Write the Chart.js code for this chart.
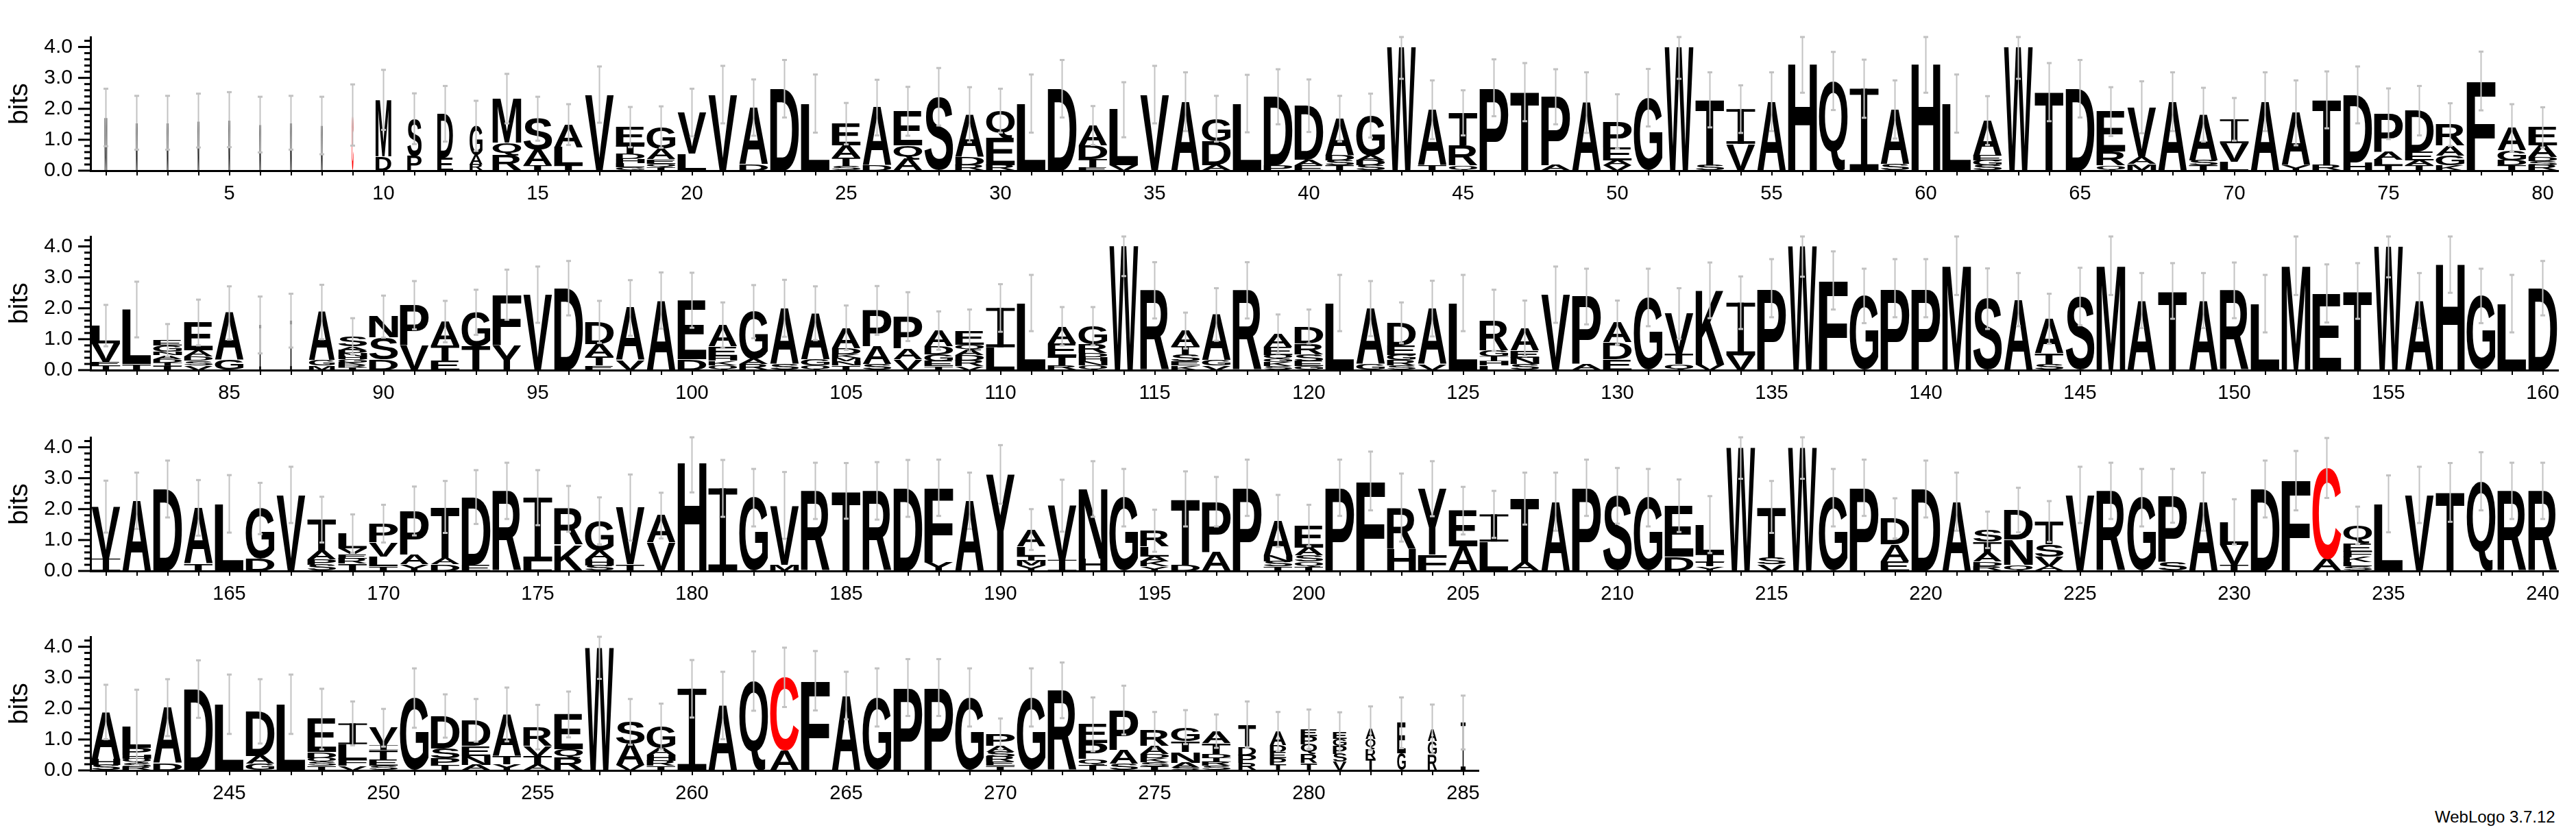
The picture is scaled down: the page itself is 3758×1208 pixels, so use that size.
<!DOCTYPE html>
<html><head><meta charset="utf-8">
<script src="https://cdn.jsdelivr.net/npm/chart.js@4/dist/chart.umd.min.js"></script>
<style>
html,body{margin:0;padding:0;background:#fff;width:3758px;height:1208px;overflow:hidden;position:relative}
canvas{position:absolute;left:0}
#credit{position:absolute;left:3552px;top:1180px;font:24px/24px 'Liberation Sans',Arial,sans-serif;color:#000;white-space:nowrap}
</style></head><body>
<div id="credit">WebLogo 3.7.12</div>
<script>
// ---- data: each stack lists letters bottom -> top with height in bits ----
const row1Stacks = [
"M1.72","M1.55","M1.55","M1.62","M1.65","M1.49","M1.55","M1.46","C1.8",
"D.46 M1.83","P.48 S1.2","E.43 D1.41","R.2 A.3 G.95","R.5 Q.4 M1.43","T.17 A.5 S1.01","T.17 L.58 A.74","V2.46","G.1 L.14 H.14 D.16 T.29 E.58","T.11 Q.12 E.15 A.33 G.7","L.56 V1.32",
"V2.46","D.21 A1.83","D2.65","L2.17","S.16 T.26 A.39 E.71","D.17 A1.87","A.37 Q.45 E1.1","S2.39","R.17 D.26 A1.38","R.17 E.87 Q.9",
"L2.17","D2.65","E.11 T.26 D.45 A.64","V.17 L1.8","V2.46","A2.23","A.17 D.77 G.74","L2.17","P.17 D2.22","E.17 A.18 D1.75",
"T.17 S.16 D.16 A1.19","S.17 D.16 A.16 G1.29","W4.0","T.17 A1.8","Q.17 R.64 T1.06","P2.68","T2.54","A.17 P2.22","A2.2","V.17 A.16 E.42 P.84",
"G2.36","W4.0","S.17 T2.12","V.87 I1.12","A2.23","H3.46","Q2.9","I2.65","S.2 A1.78","H3.46",
"L2.17","S.17 G.16 E.16 A1.13","W4.0","T2.54","D2.65","Q.17 R.45 E1.29","M.21 A.22 V1.62","A2.23","T.17 S.16 A1.48","L.29 V.6 I.77",
"A2.23","Y.17 A1.7","R.17 T2.12","H.27 D2.18","T.17 L.19 A.26 P1.22","T.17 A.16 E.29 D1.32","K.17 G.32 A.32 R.68","F2.9","T.17 D.16 G.32 A.74","R.17 S.13 D.13 A.39 E.58"
];
const row1ErrTop = [2.65,2.42,2.42,2.49,2.54,2.39,2.42,2.39,2.79,3.26, 2.5,2.74,2.26,3.13,2.39,2.15,3.37,2.06,2.08,2.65, 3.39,2.95,3.58,3.11,2.19,2.94,2.71,3.32,2.7,2.65, 3.11,3.58,2.09,2.86,3.39,3.18,2.42,3.1,3.28,2.95, 2.42,2.49,5.03,2.92,2.6,3.6,3.48,3.28,3.18,2.47, 3.29,5.03,3.18,2.76,3.18,4.4,3.84,3.59,2.92,4.4, 3.11,2.41,5.03,3.48,3.58,2.7,2.89,3.18,2.68,2.35, 3.18,2.92,3.21,3.37,2.66,2.74,2.18,3.85,2.15,2.05];

const row2Stacks = [
"I.14 E.13 V.6 L.57","T.19 L1.77","T.14 I.1 D.12 A.12 N.12 G.2 E.16","V.16 S.15 D.14 A.19 E.9","G.32 A1.53","I1.46","I1.6","M.16 G.16 A1.56","T.09 R.08 K.08 G.1 H.1 N.1 D.1 A.12 S.32","D.35 S.71 N.67",
"V.8 P1.3","E.31 T.49 A.77","T.77 G1.1","Y.8 F1.64","V2.44","D2.65","E.16 T.29 A.39 D.72","V.31 A1.7","A2.25","D.35 E1.91",
"Q.16 K.15 H.14 E.32 A.68","R.19 A.16 G1.54","S.19 A1.81","Q.16 G.19 A1.49","T.16 N.13 M.11 K.12 D.19 A.66","S.19 A.58 P1.16","V.35 A.35 P1.03","T.13 E.16 G.22 D.26 A.51","V.13 R.19 D.16 A.16 Q.19 E.45","L.74 I1.27",
"L2.17","R.16 T.29 E.42 A.55","Q.16 N.13 H.13 D.13 R.29 G.58","W4.02","R2.58","K.16 E.13 S.22 T.26 A.51","V.16 G.16 A1.48","R2.58","S.13 K.13 G.1 Q.13 E.26 A.42","G.13 E.16 S.22 R.35 D.55",
"L2.17","G.19 A1.8","S.16 R.16 G.16 E.32 D.73","V.19 A1.8","L2.17","L.16 H.13 I.16 G.19 R.97","S.19 N.22 E.22 A.72","V2.44","A.19 P2.19","E.35 D.55 A.64",
"G2.35","Q.19 T.35 V1.29","V.17 K2.41","V.48 I1.7","P2.65","W4.01","F2.9","G2.4","P2.65","P2.65",
"M3.4","S2.31","A2.28","S.19 T.35 A1.12","S2.38","M3.4","A2.25","T2.56","A2.25","R2.58",
"L2.15","M3.4","E2.48","T2.56","W4.0","A2.25","H3.45","G2.4","L2.15","D2.65"
];
const row2ErrTop = [2.11,2.86,1.49,2.28,2.71,2.38,2.47,2.76,1.68,2.41, 2.88,2.24,2.6,3.25,3.35,3.53,2.24,2.91,3.16,3.15, 2.19,2.75,2.92,2.71,2.09,2.72,2.52,1.9,1.96,2.78, 3.08,2.04,2.04,5.0,3.49,1.86,2.65,3.49,1.8,1.96, 3.08,2.88,2.19,2.89,3.08,2.6,2.25,3.35,3.28,2.25, 3.28,2.65,3.48,3.03,3.59,5.0,3.84,3.28,3.59,3.59, 4.37,3.29,3.14,2.47,3.31,4.37,3.14,3.46,3.14,3.48, 3.08,4.37,3.42,3.46,5.0,3.14,4.4,3.28,3.08,3.53];

const row3Stacks = [
"I.4 V1.68","A2.27","D2.65","T.24 A1.8","L2.17","D.4 G1.62","V2.46","S.21 P.16 A.29 T1.0","T.25 R.16 E.15 V.17 L.48","T.15 L.32 V.45 P.61",
"Y.21 A.32 P1.41","D.21 A.19 T1.67","E.21 D2.18","R2.59","L.31 I2.06","K.85 R1.16","S.18 H.19 A.29 G.96","T.22 V1.83","V.92 A.87","H3.49",
"I2.67","G2.37","M.21 V1.91","R2.59","T2.59","R2.59","D2.67","Y.28 F2.41","A2.27","Y3.12",
"Y.18 M.16 I.13 L.32 A.55","I.36 V1.75","H.4 N2.25","G2.37","Y.15 K.16 A.16 L.32 R.51","D.21 T2.12","A.6 P1.64","P2.69","T.15 S.16 N.19 A1.12","T.15 Q.16 S.19 A.26 E.71",
"P2.69","F2.91","H.73 R1.32","F.53 Y2.13","A.79 E1.16","L.95 I.88","A.28 T2.06","A2.24","P2.69","S2.43",
"G2.37","D.47 E1.64","Y.15 T.14 I.24 L.97","W3.99","V.21 S.22 T1.64","W3.99","G2.37","P2.69","E.31 A.55 D.84","D2.65",
"A2.24","R.15 D.15 A.29 T.35 S.39","Q.21 N.8 D.96","A.15 V.32 S.39 T.74","V2.46","R2.59","G2.37","S.28 P2.15","A2.24","T.21 V.64 L.74",
"D2.65","F2.92","A.37 C2.96","S.15 L.13 K.16 F.19 E.26 Q.58","L2.17","V2.46","T2.54","Q2.9","R2.59","R2.59"
];
const row3ErrTop = [2.92,3.18,3.57,2.94,3.1,2.85,3.37,2.4,1.83,2.14, 2.73,2.91,3.26,3.5,3.26,2.75,2.38,3.12,2.53,4.44, 3.59,3.3,3.2,3.5,3.49,3.52,3.59,3.6,3.18,4.07, 2.0,2.95,3.55,3.3,1.98,3.22,3.04,3.6,2.46,2.14, 3.6,3.86,3.15,3.55,2.72,2.59,3.18,3.18,3.6,3.33, 3.3,2.96,2.42,5.0,2.91,5.0,3.3,3.6,2.35,3.57, 3.18,1.92,2.69,2.26,3.37,3.5,3.3,3.3,3.18,2.32, 3.57,3.88,4.3,2.08,3.09,3.37,3.49,3.84,3.5,3.5];

const row4Stacks = [
"S.18 H.19 A1.52","R.12 S.13 Q.13 H.13 P.22 L.67","D.24 A1.79","D2.63","L2.14","G.21 A.26 D1.44","L2.14","T.15 S.13 Q.13 D.18 E1.07","V.15 F.19 L.51 I.67","S.15 E.19 T.32 I.16 V.56",
"G2.34","T.18 P.22 S.32 D1.04","A.18 N.29 E.32 D.83","Y.21 T.26 A1.34","A.18 T.29 V.32 R.61","R.4 Q.29 E1.12","W3.97","V.18 A.67 S.72","T.15 R.16 H.19 A.22 G.7","I2.64",
"A2.1","Q2.89","A.63 C2.38","F2.9","A2.42","G2.36","P2.68","P2.68","G2.36","T.15 E.13 R.16 S.16 A.19 P.38",
"G2.36","R2.59","T.18 Q.19 P.51 E.61","S.21 A.45 P1.29","T.14 S.13 K.13 D.13 A.26 R.51","S.09 A.16 N.35 T.35 G.45","S.15 R.13 I.13 D.13 T.35 A.38","R.24 P.24 D.26 T.75","T.21 P.19 E.19 D.22 A.45","T.24 R.29 Q.32 P.26 E.22",
"V.28 S.26 P.26 G.22 E.22","T.37 R.32 Q.32 A.35","G.56 E.98","R.5 G.45 A.38","I1.55"
];
const row4ErrTop = [2.77,2.61,2.95,3.56,3.1,2.95,3.1,2.64,2.23,1.99, 3.3,2.46,2.31,2.68,2.12,2.55,4.98,2.31,2.16,3.57, 3.19,3.85,3.97,3.86,3.19,3.3,3.6,3.6,3.3,1.68, 3.3,3.49,2.36,2.74,1.89,1.95,1.81,2.23,1.89,1.97, 1.88,2.07,2.36,2.13,2.42];

// stack-width fraction (non-gap fraction) for positions that are not full width
const narrowPositions = [1,2,3,4,5,6,7,8,9,10,11,12,13,86,87,88,278,279,280,281,282,283,284,285];
const narrowWidths   = [0.09,0.07,0.07,0.07,0.07,0.07,0.07,0.07,0.06,0.55,0.5,0.55,0.45,0.06,0.06,0.9,0.62,0.57,0.57,0.48,0.35,0.3,0.32,0.17];

const rowFirstPositions = [1, 81, 161, 241];
const yTickLabels = ["0.0","1.0","2.0","3.0","4.0"];
const yMaxBits = 4.3219;

// ---- layout / style ----
const LAYOUT = { baselines:[249,540,833,1124], areaLeft:132, catWidth:45, areaHeight:224, padTop:15, xAxisH:50, canvasW:3758 };
const FONT = "'Liberation Sans', Arial, Helvetica, sans-serif";
const LETTER_FONT = "bold 200px 'Liberation Sans', Arial, Helvetica, sans-serif";
const ERR_COLOR = '#c2c2c2';

function parseStack(s){ return s.split(' ').map(t => ({letter:t[0], h:parseFloat(t.slice(1))})); }
function coverage(pos){ const k = narrowPositions.indexOf(pos); return k < 0 ? 1 : narrowWidths[k]; }

const glyphCache = {};
function glyphBox(ctx, L){
  if (!glyphCache[L]) {
    ctx.save(); ctx.font = LETTER_FONT;
    const m = ctx.measureText(L);
    glyphCache[L] = {l:m.actualBoundingBoxLeft, r:m.actualBoundingBoxRight, a:m.actualBoundingBoxAscent, d:m.actualBoundingBoxDescent};
    ctx.restore();
  }
  return glyphCache[L];
}
function drawLetter(ctx, L, x, y, w, h, color){
  if (h < 0.3 || w < 0.3) return;
  ctx.save();
  ctx.fillStyle = color;
  if (L === 'I') {
    const bar = Math.max(0.6, h*0.075), stem = Math.max(1.5, w*0.22);
    ctx.fillRect(x, y, w, bar);
    ctx.fillRect(x, y + h - bar, w, bar);
    ctx.fillRect(x + (w - stem)/2, y, stem, h);
  } else {
    const g = glyphBox(ctx, L);
    const gw = g.l + g.r, gh = g.a + g.d;
    ctx.translate(x, y);
    ctx.scale(w/gw, h/gh);
    ctx.font = LETTER_FONT; ctx.textAlign = 'left'; ctx.textBaseline = 'alphabetic';
    ctx.fillText(L, g.l, g.a);
  }
  ctx.restore();
}

const logoPlugin = {
  id:'logo',
  afterDatasetsDraw(chart){
    const ctx = chart.ctx, xs = chart.scales.x, ys = chart.scales.y;
    const first = chart.options.plugins.logo.first;
    const catW = xs.width / chart.data.labels.length;
    const totals = new Array(chart.data.labels.length).fill(0);
    chart.data.datasets.forEach((ds, di) => {
      const meta = chart.getDatasetMeta(di);
      meta.data.forEach((bar, i) => {
        const v = ds.data[i]; if (!v) return;
        totals[i] += v;
        const p = bar.getProps(['x','y','base'], true);
        const w = catW * 0.93 * coverage(first + i);
        const L = ds.letters[i];
        drawLetter(ctx, L, p.x - w/2, p.y, w, p.base - p.y, L === 'C' ? '#ff0000' : '#000000');
      });
    });
    // error bars
    const errTop = chart.options.plugins.logo.errTop;
    const area = chart.chartArea;
    ctx.save();
    ctx.fillStyle = ERR_COLOR; ctx.strokeStyle = ERR_COLOR; ctx.lineWidth = 2;
    totals.forEach((t, i) => {
      const hi = Math.min(errTop[i], yMaxBits);
      const lo = Math.max(2*t - errTop[i], 0);
      const x = xs.getPixelForValue(i);
      const y1 = Math.max(ys.getPixelForValue(hi), area.top), y2 = ys.getPixelForValue(lo);
      ctx.beginPath(); ctx.moveTo(x, y1); ctx.lineTo(x, y2); ctx.stroke();
      ctx.fillRect(x - 3.5, y1 - 1.5, 7, 3);
      ctx.fillRect(x - 3.5, y2 - 1.5, 7, 3);
    });
    ctx.restore();
  },
  afterDraw(chart){
    const ctx = chart.ctx, ys = chart.scales.y, left = chart.chartArea.left;
    ctx.save(); ctx.fillStyle = '#000';
    for (let k = 0; k * 0.2 <= yMaxBits; k++) {
      const y = ys.getPixelForValue(k * 0.2);
      const len = (k % 5 === 0) ? 18 : 9;
      ctx.fillRect(left - len, y - 1.5, len, 3);
    }
    ctx.restore();
  }
};

const allStacks = [row1Stacks, row2Stacks, row3Stacks, row4Stacks];
const allErr = [row1ErrTop, row2ErrTop, row3ErrTop, row4ErrTop];

allStacks.forEach((stacks, r) => {
  const first = rowFirstPositions[r];
  const parsed = stacks.map(parseStack);
  const labels = parsed.map((_, i) => String(first + i));
  const maxRank = Math.max(...parsed.map(p => p.length));
  const datasets = [];
  for (let k = 0; k < maxRank; k++) {
    datasets.push({
      data: parsed.map(p => p[k] ? p[k].h : 0),
      letters: parsed.map(p => p[k] ? p[k].letter : ''),
      backgroundColor:'rgba(0,0,0,0)', borderWidth:0,
      barPercentage:1, categoryPercentage:1, stack:'s'
    });
  }
  const cv = document.createElement('canvas');
  const H = LAYOUT.padTop + LAYOUT.areaHeight + LAYOUT.xAxisH;
  cv.width = LAYOUT.canvasW; cv.height = H;
  cv.style.width = LAYOUT.canvasW + 'px'; cv.style.height = H + 'px';
  cv.style.top = (LAYOUT.baselines[r] - LAYOUT.areaHeight - LAYOUT.padTop) + 'px';
  document.body.appendChild(cv);
  const rightEdge = LAYOUT.areaLeft + labels.length * LAYOUT.catWidth;
  new Chart(cv, {
    type:'bar',
    data:{labels, datasets},
    options:{
      responsive:false, animation:false, events:[], devicePixelRatio:1,
      layout:{padding:{top:LAYOUT.padTop, right:LAYOUT.canvasW - rightEdge, left:0, bottom:0}},
      plugins:{legend:{display:false}, tooltip:{enabled:false}, logo:{first, errTop:allErr[r]}},
      scales:{
        x:{type:'category', stacked:true, offset:true,
           grid:{display:true, drawOnChartArea:false, drawTicks:true, tickLength:7, offset:false, color:'#000', lineWidth:2},
           border:{display:true, color:'#000', width:3},
           ticks:{autoSkip:false, maxRotation:0, minRotation:0, padding:10, color:'#000', font:{family:FONT, size:29},
                  callback:(v, i) => ((first + i) % 5 === 0 ? String(first + i) : '')},
           afterFit:(s) => { s.height = LAYOUT.xAxisH; }},
        y:{type:'linear', stacked:true, min:0, max:yMaxBits,
           grid:{display:true, drawOnChartArea:false, drawTicks:false},
           border:{display:true, color:'#000', width:3},
           ticks:{stepSize:0.2, autoSkip:false, padding:26, color:'#000', font:{family:FONT, size:30},
                  callback:(v) => { const n = Math.round(v); return (Math.abs(v - n) < 1e-6 && n <= 4) ? yTickLabels[n] : ''; }},
           title:{display:true, text:'bits', color:'#000', font:{family:FONT, size:39}, padding:{top:6, bottom:0}},
           afterFit:(s) => { s.width = LAYOUT.areaLeft; }}
      }
    },
    plugins:[logoPlugin]
  });
});
</script>
</body></html>
